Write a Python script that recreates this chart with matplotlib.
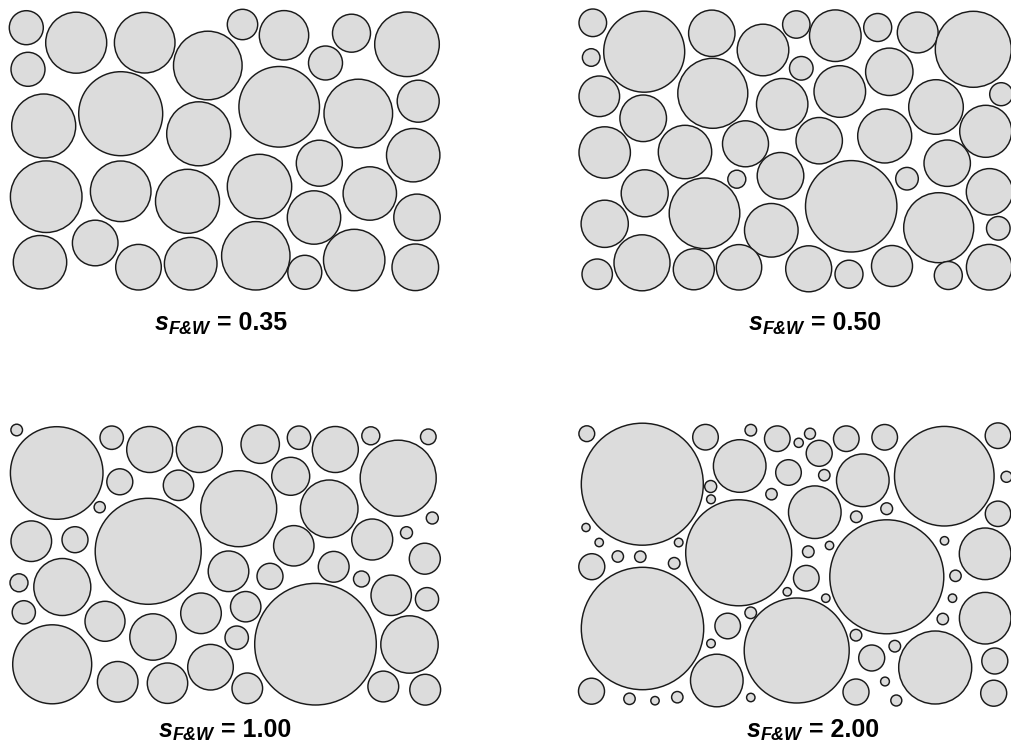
import matplotlib
matplotlib.use("Agg")
import matplotlib.pyplot as plt
from matplotlib.patches import Circle

# Panel data (pixel-space coordinates of circle centres and radii)
p1_x = [26.3, 76.2, 144.7, 207.8, 28, 43.7, 120.7, 198.7, 46.2, 120.7, 187.5, 40, 95.2, 138.5, 190.7,
        255.8, 242.5, 284, 351.5, 407, 325.5, 279.2, 358.3, 418.2, 319.3, 413.2, 259.5, 369.8, 314, 417,
        304.8, 354.2, 415.3]
p1_y = [27.7, 42.7, 42.7, 65.5, 69.3, 126, 113.7, 133.8, 196.7, 191.3, 201.3, 262.2, 243, 267.2, 263.7,
        255.8, 24.5, 35.3, 33.2, 44.3, 63, 106.8, 113.5, 101.2, 163.2, 155.2, 186.5, 193.5, 217.5, 217.3,
        272.3, 260, 267.3]
p1_r = [17, 30.5, 30.3, 34.3, 17, 32, 42, 32, 35.8, 30.3, 32, 26.7, 22.8, 22.8, 26.3,
        34.2, 15.2, 24.7, 19, 32.3, 17, 40.3, 34.3, 21, 23, 26.7, 32.2, 26.7, 26.7, 23.2,
        17, 30.7, 23.3]

p2_x = [592.8, 644.2, 711.8, 591.2, 763, 599.3, 712.8, 643.2, 782.2, 604.7, 685, 745.5, 736.8, 780.5,
        644.7, 704.5, 604.7, 771.3, 597.2, 642, 693.8, 739, 808.7, 796.3, 801.3, 819.2, 835.3, 877.7,
        917.7, 973.3, 839.8, 889.3, 1001.2, 936, 985.7, 884.7, 947.2, 907, 851.2, 989.5, 938.7, 998.3,
        989.2, 849, 892, 948.3]
p2_y = [22.8, 51.7, 33.3, 57.5, 50, 96.3, 93.3, 118.3, 104.2, 152.5, 152, 143.8, 179.2, 175.8,
        193.3, 213.3, 223.8, 230.3, 274.2, 262.8, 269.3, 267.3, 268.8, 24.5, 68.3, 140.7, 35.7, 27.5,
        32.5, 49.3, 91.5, 71.8, 94.2, 107, 131.3, 136, 163.2, 178.7, 206.3, 191.8, 227.7, 228.3,
        267.2, 274.2, 266, 275.5]
p2_r = [13.8, 40.5, 23.2, 8.8, 25.8, 20.3, 35, 23.3, 25.7, 25.7, 26.7, 23, 9, 23.3,
        23.5, 35.3, 23.6, 26.8, 15.2, 28, 20.5, 22.7, 23, 13.7, 11.8, 23.2, 25.8, 14,
        20.4, 38, 25.8, 23.7, 11.5, 27.3, 26, 27, 23.2, 11.3, 45.7, 23.2, 35, 11.8,
        22.8, 14, 20.5, 14]

p3_x = [16.7, 56.7, 111.7, 149.7, 199.3, 119.8, 178.5, 99.7, 31.3, 75, 148.2, 19, 62.3, 23.8, 105,
        153, 201, 52.2, 117.7, 167.5, 210.5, 238.7, 228.5, 236.7, 260.2, 299, 335.3, 370.8, 428.3,
        290.7, 398.2, 329.2, 432.3, 293.8, 372.2, 406.5, 424.8, 270, 333.7, 361.5, 391.2, 427, 245.7,
        315.5, 409.5, 247.3, 383.3, 425.2]
p3_y = [430, 473, 437.7, 449.5, 449.5, 481.8, 485.3, 507.2, 541.2, 539.7, 551.3, 582.8, 587, 612.3, 621.3,
        637, 613.3, 664.3, 681.8, 683.2, 667.2, 508.7, 571.3, 637.7, 444.2, 437.7, 449.5, 435.8, 436.8,
        476.3, 478.2, 508.8, 518, 545.8, 539.5, 532.7, 558.7, 576.3, 566.8, 579, 595.3, 599.2, 606.7,
        644.2, 644.5, 688.3, 686.5, 689.7]
p3_r = [5.8, 46.3, 11.7, 23, 23, 13, 15.2, 5.6, 20.3, 13, 53, 9, 28.5, 11.6, 20,
        23.2, 20.3, 39.5, 20.3, 20.2, 22.8, 38, 20.3, 11.7, 19.2, 11.7, 23, 9, 7.8,
        19, 38, 28.8, 6, 20.2, 20.5, 6, 15.5, 13, 15.4, 8, 20.2, 11.6, 15.2,
        60.8, 28.7, 15.3, 15.4, 15.4]

p4_x = [586.8, 642.3, 705.5, 750.8, 777.3, 739.7, 798.7, 710.7, 711, 788.5, 771.5, 814.8, 586, 599.2,
        678.7, 738.7, 617.8, 640.3, 674.2, 591.8, 642.5, 806.3, 787.3, 750.7, 727.7, 711, 796.7, 716.8,
        591.5, 629.5, 655, 677.3, 750.8, 810, 819.2, 846.3, 884.7, 944.3, 998, 824.3, 862.8, 1006.5,
        886.7, 856.3, 998, 808.3, 829.5, 944.5, 886.8, 985.1, 955.5, 825.8, 952.5, 985.2, 942.8, 856,
        894.8, 871.7, 935.2, 994.8, 885, 856, 896.3, 993.7]
p4_y = [433.7, 484.2, 437.2, 430.2, 438.7, 466, 442.8, 486.5, 499.3, 472.5, 494.2, 512.2, 527.5, 542.5,
        542.5, 552.8, 556.5, 556.7, 563.3, 566.7, 628.5, 578.2, 591.8, 612.8, 626, 643.5, 650.5, 680.5,
        691.2, 698.8, 700.7, 697.2, 697.5, 433.7, 453.3, 438.7, 437.3, 476.2, 435.7, 475.2, 480.3, 476.8,
        508.7, 516.8, 513.8, 551.7, 545.5, 540.8, 576.8, 553.8, 575.8, 598.2, 598.2, 618.2, 619, 635.2,
        646.2, 658, 667.5, 661, 681.5, 692, 700.5, 693.2]
p4_r = [7.9, 61, 12.8, 5.8, 12.8, 26.3, 4.6, 6, 4.4, 12.8, 5.7, 26.3, 4.1, 4.2,
        4.3, 53, 5.7, 5.7, 5.8, 13, 61.2, 12.8, 4.2, 5.8, 12.8, 4.3, 52.5, 26.3,
        13, 5.7, 4.2, 5.7, 4.2, 5.5, 13, 12.8, 12.8, 49.8, 12.8, 5.7, 26.3, 5.5,
        5.9, 5.8, 12.7, 5.8, 4.2, 4.2, 57, 25.8, 5.7, 4.2, 4.2, 25.8, 5.7, 5.8,
        5.8, 13, 36.5, 13, 4.4, 13, 5.5, 13]

labels = ["0.35", "0.50", "1.00", "2.00"]
label_x = [221, 815, 225, 813]
label_y = [330, 330, 737, 737]

panels = [(p1_x, p1_y, p1_r), (p2_x, p2_y, p2_r), (p3_x, p3_y, p3_r), (p4_x, p4_y, p4_r)]

fig = plt.figure(figsize=(10.11, 7.46), dpi=100)
ax = fig.add_axes([0, 0, 1, 1])
ax.set_xlim(0, 1011)
ax.set_ylim(746, 0)
ax.axis("off")

for xs, ys, rs in panels:
    for x, y, r in zip(xs, ys, rs):
        ax.add_patch(Circle((x, y), r, facecolor="#dcdcdc", edgecolor="#1a1a1a", linewidth=1.05))

renderer = fig.canvas.get_renderer()
for lab, lx, ly in zip(labels, label_x, label_y):
    parts = [
        ("s", 18, "italic", 0),
        ("F&W", 13, "italic", 3.5),
        (" = " + lab, 18, "normal", 0),
    ]
    texts = []
    for s, fs, st, dy in parts:
        t = ax.text(0, ly + dy, s, fontsize=fs, fontstyle=st, fontweight="bold",
                    family="Liberation Sans", ha="left", va="baseline", color="black")
        texts.append(t)
    widths = [t.get_window_extent(renderer).width for t in texts]
    total = sum(widths)
    x0 = lx - total / 2
    for t, w in zip(texts, widths):
        t.set_x(x0)
        x0 += w

fig.savefig("out.png", dpi=100)
